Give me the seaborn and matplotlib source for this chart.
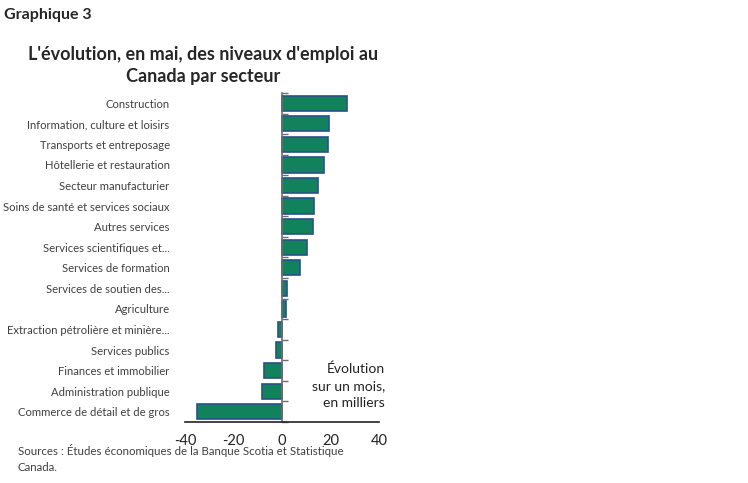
import numpy as np
import pandas as pd
import matplotlib
matplotlib.use('Agg')
import matplotlib.pyplot as plt
import seaborn as sns

secteurs = ['Construction', 'Information, culture et loisirs', 'Transports et entreposage',
            'Hôtellerie et restauration', 'Secteur manufacturier',
            'Soins de santé et services sociaux', 'Autres services',
            'Services scientifiques et...', 'Services de formation',
            'Services de soutien des...', 'Agriculture',
            'Extraction pétrolière et minière...', 'Services publics',
            'Finances et immobilier', 'Administration publique',
            'Commerce de détail et de gros']
variation = [26.9, 19.3, 18.8, 17.2, 14.8, 13.2, 12.6, 10.2, 7.4,
             1.8, 1.5, -1.9, -2.5, -7.4, -8.2, -35.1]
x_ticks = [-40, -20, 0, 20, 40]

df = pd.DataFrame({'secteur': secteurs, 'variation': variation})

sns.set_style('white')
plt.rcParams['font.family'] = ['Lato', 'DejaVu Sans']

fig = plt.figure(figsize=(7.48, 4.83), dpi=100)
ax = fig.add_axes([0.2473, 0.1263, 0.2598, 0.6812])

sns.barplot(data=df, x='variation', y='secteur', orient='h', color='#12825d',
            saturation=1, width=0.74, edgecolor='#2c4f8c', linewidth=1.2, ax=ax)

ax.set_xlim(-40, 40)
ax.set_ylim(len(secteurs) - 0.5, -0.5)
ax.set_xticks(x_ticks)
ax.set_xticklabels([str(v) for v in x_ticks], fontsize=10.5, color='#222222')
ax.set_xlabel('')
ax.set_ylabel('')

for s in ['top', 'left']:
    ax.spines[s].set_visible(False)
ax.spines['bottom'].set_color('#222222')
ax.spines['bottom'].set_linewidth(1.2)
ax.spines['right'].set_position(('data', 0))
ax.spines['right'].set_color('#6e6e6e')
ax.spines['right'].set_linewidth(1.2)

ax.tick_params(axis='x', direction='in', length=5, width=1.2, color='#222222', pad=9)
ax.tick_params(axis='y', which='major', length=0, labelsize=8.1, labelcolor='#404040', pad=11)
ax.set_yticks(np.arange(-0.5, len(secteurs), 1), minor=True)
ax.tick_params(axis='y', which='minor', left=False, right=True, direction='out',
               length=4, width=1, color='#6e6e6e')

ax.text(1.03, 0.04, 'Évolution\nsur un mois,\nen milliers', transform=ax.transAxes,
        ha='right', va='bottom', fontsize=10, color='#222222', linespacing=1.5)

fig.text(0.006, 0.968, 'Graphique 3', fontsize=11.5, fontweight='bold', va='center')
fig.text(0.272, 0.864, "L'évolution, en mai, des niveaux d'emploi au\nCanada par secteur",
         ha='center', va='center', fontsize=13, fontweight='bold', linespacing=1.35)
fig.text(0.024, 0.021, 'Sources : Études économiques de la Banque Scotia et Statistique\nCanada.',
         fontsize=8.3, color='#404040', va='bottom', linespacing=1.55)

fig.savefig('out.png', dpi=100)
